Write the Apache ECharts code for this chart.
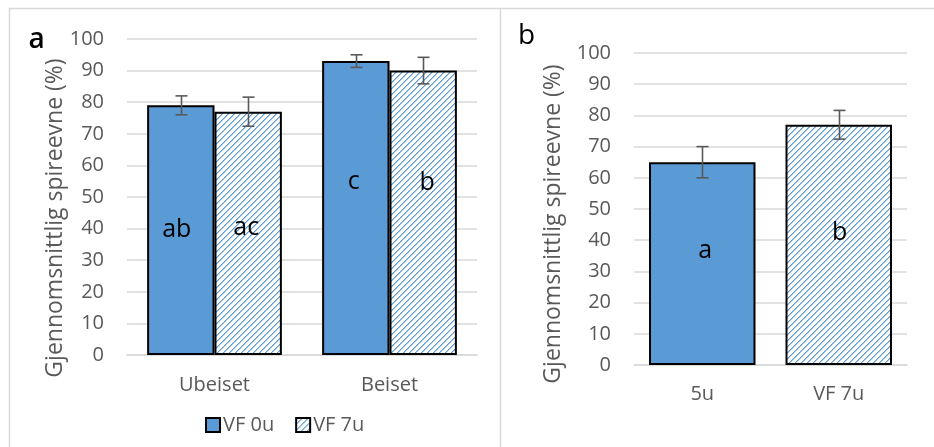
<!DOCTYPE html>
<html>
<head>
<meta charset="utf-8">
<script src="https://cdn.jsdelivr.net/npm/echarts@6/dist/echarts.min.js"></script>
<style>
html,body{margin:0;padding:0;background:#fff;}
#chart{width:934px;height:447px;}
</style>
</head>
<body>
<div id="chart"></div>
<script>
// ---- data ----
const catsA = ['Ubeiset', 'Beiset'];
const vf0 = [79, 93];
const vf7 = [77, 90];
const errVf0 = [3, 2];
const errVf7 = [4.6, 4.2];
const lettersVf0 = ['ab', 'c'];
const lettersVf7 = ['ac', 'b'];
const catsB = ['5u', 'VF 7u'];
const valsB = [65, 77];
const errB = [5, 4.6];
const lettersB = ['a', 'b'];
const seriesNames = ['VF 0u', 'VF 7u'];
const yTitle = 'Gjennomsnittlig spireevne (%)';
const panelLetters = ['a', 'b'];

// ---- styles ----
const FONT = 'Open Sans';
const BLUE = '#5b9bd5';
const GREY_TXT = '#595959';
const GRID_C = '#d9d9d9';

function hatch() {
  const n = 6;
  const c = document.createElement('canvas');
  c.width = n; c.height = n;
  const g = c.getContext('2d');
  g.fillStyle = '#fff'; g.fillRect(0, 0, n, n);
  for (let y = 0; y < n; y++) {
    const x = (n - 1 - y + n) % n;
    g.fillStyle = BLUE; g.fillRect(x, y, 1, 1);
    g.fillStyle = '#a9c9ea'; g.fillRect((x + 1) % n, y, 1, 1);
  }
  return { image: c, repeat: 'repeat' };
}
const HATCH = hatch();

const solidStyle = { color: BLUE, borderColor: '#000', borderWidth: 2 };
const hatchStyle = { color: HATCH, borderColor: '#000', borderWidth: 2 };

const GAP_A = 0.23, GAP_B = 0.22;

function errRender(sign, gap, n) {
  return function (params, api) {
    const i = api.value(0), v = api.value(1), e = api.value(2);
    const band = api.size([1, 0])[0];
    const bw = band * (1 - gap) / n;
    const dx = sign * bw / 2;
    const top = api.coord([i, v + e]);
    const bot = api.coord([i, v - e]);
    const x = Math.round(top[0] + dx) + 0.5;
    const cap = 6;
    const st = { stroke: GREY_TXT, lineWidth: 1.6 };
    return {
      type: 'group', children: [
        { type: 'line', shape: { x1: x, y1: top[1], x2: x, y2: bot[1] }, style: st },
        { type: 'line', shape: { x1: x - cap, y1: top[1], x2: x + cap, y2: top[1] }, style: st },
        { type: 'line', shape: { x1: x - cap, y1: bot[1], x2: x + cap, y2: bot[1] }, style: st }
      ]
    };
  };
}

const letterStyle = { show: true, position: 'inside', color: '#000', fontFamily: FONT, fontSize: 25 };
const offA0 = [[-4, 0], [-2, -26]];
const offA1 = [[-2, -5], [4, -30]];
const offB = [[3, -13], [1, -12]];

function yAx(gi) {
  return {
    gridIndex: gi, type: 'value', min: 0, max: 100, interval: 10,
    axisLine: { show: false }, axisTick: { show: false },
    axisLabel: { color: GREY_TXT, fontFamily: FONT, fontSize: 20, margin: 23 },
    splitLine: { lineStyle: { color: GRID_C, width: 1.5 } }
  };
}
function xAx(gi, cats, margin) {
  return {
    gridIndex: gi, type: 'category', data: cats,
    axisLine: { lineStyle: { color: GRID_C, width: 1.5 } }, axisTick: { show: false },
    axisLabel: { color: GREY_TXT, fontFamily: FONT, fontSize: 20, margin: margin }
  };
}

const option = {
  animation: false,
  backgroundColor: '#fff',
  textStyle: { fontFamily: FONT },
  grid: [
    { left: 127, right: 457, top: 39, bottom: 92 },
    { left: 634, right: 27, top: 53, bottom: 82 }
  ],
  xAxis: [xAx(0, catsA, 20), xAx(1, catsB, 19)],
  yAxis: [yAx(0), yAx(1)],
  legend: {
    data: seriesNames, left: 205, top: 415, icon: 'rect',
    itemWidth: 14, itemHeight: 14, itemGap: 21, padding: 0,
    textStyle: { color: GREY_TXT, fontFamily: FONT, fontSize: 20, padding: [0, 0, 0, -2] }
  },
  graphic: [
    { type: 'line', shape: { x1: 9, y1: 8.5, x2: 934, y2: 8.5 }, style: { stroke: GRID_C, lineWidth: 1.5 } },
    { type: 'line', shape: { x1: 9.5, y1: 8, x2: 9.5, y2: 447 }, style: { stroke: GRID_C, lineWidth: 1.5 } },
    { type: 'line', shape: { x1: 500.5, y1: 8, x2: 500.5, y2: 447 }, style: { stroke: GRID_C, lineWidth: 1.5 } },
    { type: 'text', x: 55, y: 218, rotation: Math.PI / 2,
      style: { text: yTitle, fill: GREY_TXT, font: '23px "Open Sans"', textAlign: 'center', textVerticalAlign: 'middle' } },
    { type: 'text', x: 553, y: 224, rotation: Math.PI / 2,
      style: { text: yTitle, fill: GREY_TXT, font: '23px "Open Sans"', textAlign: 'center', textVerticalAlign: 'middle' } },
    { type: 'text', x: 36.5, y: 40,
      style: { text: panelLetters[0], fill: '#000', font: '600 28px "Open Sans"', textAlign: 'center', textVerticalAlign: 'middle' } },
    { type: 'text', x: 526.5, y: 36,
      style: { text: panelLetters[1], fill: '#000', font: '28px "Open Sans"', textAlign: 'center', textVerticalAlign: 'middle' } }
  ],
  series: [
    {
      name: seriesNames[0], type: 'bar', xAxisIndex: 0, yAxisIndex: 0,
      barGap: '0%', barCategoryGap: (GAP_A * 100) + '%',
      itemStyle: solidStyle,
      data: vf0.map((v, i) => ({ value: v, label: Object.assign({}, letterStyle, { formatter: lettersVf0[i], offset: offA0[i] }) }))
    },
    {
      name: seriesNames[1], type: 'bar', xAxisIndex: 0, yAxisIndex: 0,
      barGap: '0%', barCategoryGap: (GAP_A * 100) + '%',
      itemStyle: hatchStyle,
      data: vf7.map((v, i) => ({ value: v, label: Object.assign({}, letterStyle, { formatter: lettersVf7[i], offset: offA1[i] }) }))
    },
    {
      name: 'panel b', type: 'bar', xAxisIndex: 1, yAxisIndex: 1,
      barCategoryGap: (GAP_B * 100) + '%',
      data: valsB.map((v, i) => ({
        value: v, itemStyle: i === 0 ? solidStyle : hatchStyle,
        label: Object.assign({}, letterStyle, { formatter: lettersB[i], offset: offB[i] })
      }))
    },
    {
      type: 'custom', xAxisIndex: 0, yAxisIndex: 0, z: 10, silent: true,
      renderItem: errRender(-1, GAP_A, 2),
      data: vf0.map((v, i) => [i, v, errVf0[i]])
    },
    {
      type: 'custom', xAxisIndex: 0, yAxisIndex: 0, z: 10, silent: true,
      renderItem: errRender(1, GAP_A, 2),
      data: vf7.map((v, i) => [i, v, errVf7[i]])
    },
    {
      type: 'custom', xAxisIndex: 1, yAxisIndex: 1, z: 10, silent: true,
      renderItem: errRender(0, GAP_B, 1),
      data: valsB.map((v, i) => [i, v, errB[i]])
    }
  ]
};

const chart = echarts.init(document.getElementById('chart'), null, { renderer: 'canvas' });
chart.setOption(option);
</script>
</body>
</html>
